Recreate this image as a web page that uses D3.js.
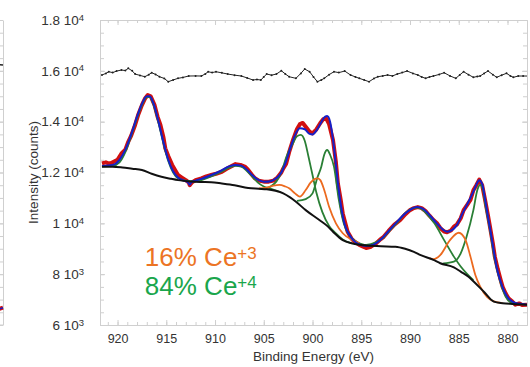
<!DOCTYPE html>
<html lang="en">
<head>
<meta charset="utf-8">
<title>Ce 3d XPS</title>
<script src="https://d3js.org/d3.v7.min.js"></script>
<style>
  body { margin: 0; background: #fff; }
  svg text { font-family: "Liberation Sans", Arial, sans-serif; fill: #333; }
</style>
</head>
<body>
<script>
// ---- data: [binding energy (eV), counts] ----
var measured = [[921.6,12360],[921.2,12400],[920.8,12340],[920.4,12420],[920.0,12500],[919.6,12750],[919.2,12900],[918.9,13210],[918.6,13450],[918.2,13870],[917.9,14250],[917.5,14650],[917.2,14900],[916.9,15050],[916.6,15000],[916.2,14650],[915.9,14200],[915.6,13870],[915.3,13400],[915.1,12950],[914.8,12650],[914.4,12300],[914.1,12100],[913.8,11900],[913.4,11800],[913.0,11700],[912.7,11610],[912.6,11500],[912.4,11600],[912.0,11700],[911.4,11770],[910.9,11850],[910.4,11900],[909.9,11950],[909.3,12030],[908.8,12150],[908.3,12250],[907.9,12330],[907.4,12300],[906.9,12220],[906.6,12100],[906.2,11900],[905.9,11770],[905.5,11680],[905.0,11640],[904.5,11640],[904.0,11680],[903.6,11800],[903.2,12000],[903.0,12160],[902.7,12350],[902.4,12800],[902.0,13280],[901.6,13700],[901.3,13900],[901.0,13950],[900.7,13800],[900.3,13600],[900.0,13540],[899.6,13700],[899.2,13950],[898.9,14100],[898.6,14130],[898.3,13900],[897.9,13280],[897.6,12400],[897.4,11570],[897.1,10900],[896.9,10390],[896.6,9950],[896.4,9670],[896.0,9400],[895.7,9280],[895.2,9150],[894.8,9080],[894.5,9030],[894.0,9080],[893.5,9210],[893.0,9380],[892.7,9470],[892.2,9700],[891.6,9950],[891.0,10130],[890.5,10350],[890.0,10520],[889.6,10600],[889.2,10640],[888.8,10600],[888.4,10480],[888.0,10300],[887.6,10130],[887.2,9990],[886.9,9820],[886.5,9680],[886.2,9650],[885.8,9720],[885.5,9870],[885.2,9950],[884.8,10200],[884.5,10520],[884.1,10750],[883.8,10920],[883.5,11300],[883.2,11500],[882.9,11720],[882.6,11500],[882.3,10920],[882.0,10300],[881.8,9870],[881.5,9200],[881.3,8690],[881.0,8200],[880.7,7770],[880.5,7500],[880.2,7250],[879.9,7050],[879.5,6920],[879.2,6800],[878.8,6850],[878.5,6790],[878.0,6800]];

var envelope = [[921.6,12260],[920.5,12300],[919.8,12500],[919.2,12900],[918.6,13500],[918.0,14200],[917.5,14700],[917.0,15000],[916.7,15000],[916.3,14700],[915.8,14000],[915.3,13200],[914.8,12500],[914.3,12050],[913.8,11800],[913.2,11680],[912.8,11620],[912.6,11520],[912.4,11620],[912.0,11680],[911.4,11750],[910.5,11880],[909.5,12050],[908.5,12250],[907.9,12300],[907.3,12270],[906.7,12100],[906.2,11900],[905.6,11720],[905.0,11640],[904.3,11660],[903.7,11780],[903.2,12000],[902.7,12450],[902.2,13050],[901.7,13550],[901.3,13740],[900.8,13700],[900.3,13520],[900.0,13500],[899.6,13650],[899.1,13980],[898.7,14200],[898.5,14220],[898.2,14000],[897.9,13300],[897.6,12300],[897.3,11300],[897.0,10500],[896.7,9950],[896.3,9600],[895.8,9330],[895.2,9170],[894.5,9110],[893.8,9150],[893.0,9360],[892.3,9650],[891.5,9990],[890.8,10280],[890.0,10530],[889.3,10640],[888.7,10580],[888.0,10330],[887.3,10020],[886.7,9780],[886.2,9670],[885.7,9730],[885.2,9930],[884.6,10400],[884.0,10850],[883.5,11250],[883.1,11600],[882.9,11700],[882.6,11550],[882.3,10950],[882.0,10250],[881.7,9600],[881.4,8900],[881.1,8250],[880.7,7700],[880.3,7300],[879.9,7050],[879.5,6920],[879.0,6850],[878.5,6830],[878.0,6800]];

var background = [[921.6,12230],[920.5,12230],[919.5,12200],[918.5,12150],[917.5,12100],[916.5,11950],[915.5,11830],[914.5,11750],[913.8,11700],[912.5,11650],[911.5,11630],[910.4,11620],[909.3,11570],[908.0,11500],[906.6,11390],[905.5,11360],[904.7,11340],[903.8,11280],[903.0,11180],[902.3,11020],[901.7,10850],[900.7,10520],[899.3,10130],[898.5,9900],[897.9,9670],[896.9,9340],[895.9,9210],[894.5,9130],[893.0,9100],[891.5,9080],[890.5,9000],[889.6,8880],[888.9,8750],[887.6,8560],[886.9,8430],[885.5,8270],[884.8,8100],[884.0,7900],[883.5,7720],[882.4,7300],[881.4,6920],[880.5,6860],[879.5,6830],[878.0,6800]];

// Ce4+ components
var ce4Peaks = [
  [[921.6,12240],[920.5,12260],[919.8,12400],[919.2,12800],[918.6,13450],[918.0,14150],[917.5,14650],[917.0,14970],[916.7,14970],[916.3,14650],[915.8,13950],[915.3,13150],[914.8,12450],[914.3,12000],[913.8,11770],[913.0,11680],[912.0,11640]],
  [[912.5,11650],[911.4,11700],[910.5,11830],[909.5,12000],[908.5,12200],[907.9,12260],[907.3,12230],[906.7,12050],[906.2,11850],[905.6,11600],[905.0,11450],[904.3,11370],[903.5,11260]],
  [[904.8,11380],[904.3,11450],[903.7,11650],[903.2,12000],[902.7,12600],[902.0,13150],[901.6,13420],[901.2,13480],[900.8,13250],[900.4,12600],[900.0,11900],[899.6,11200],[899.0,10450],[898.3,9900],[897.6,9600],[896.9,9360],[896.0,9210]],
  [[901.6,10880],[900.7,10950],[900.0,11180],[899.5,11800],[899.1,12230],[898.8,12700],[898.5,12885],[898.2,12700],[897.8,12230],[897.3,10920],[896.8,10000],[896.1,9470],[895.2,9210],[894.5,9130]],
  [[895.5,9200],[894.5,9150],[893.5,9250],[892.7,9450],[892.0,9750],[891.2,10080],[890.5,10400],[889.8,10580],[889.3,10620],[888.9,10590],[888.4,10420],[887.5,10000],[886.5,9340],[885.5,8690],[884.8,8300],[884.2,8030],[883.5,7760]],
  [[886.6,8420],[885.5,8490],[884.8,8820],[884.2,9470],[883.5,10520],[883.1,11300],[882.8,11510],[882.5,11300],[882.3,10790],[881.8,9740],[881.3,8560],[880.7,7640],[880.2,7120],[879.7,6900],[879.0,6830]]
];

// Ce3+ components
var ce3Peaks = [
  [[905.5,11370],[904.7,11400],[904.0,11480],[903.4,11510],[902.8,11450],[902.4,11380],[901.8,11180],[901.3,11050],[900.7,11310],[900.2,11600],[899.8,11740],[899.5,11770],[899.2,11700],[898.8,11310],[898.3,10650],[897.6,10000],[896.9,9610],[895.9,9340],[895.2,9220]],
  [[888.0,8620],[887.6,8590],[886.9,8750],[885.9,9340],[885.0,9630],[884.3,9340],[883.8,8690],[883.3,7970],[882.8,7510],[882.1,7110],[881.4,6930],[880.5,6860]]
];

// residual, drawn offset to 1.6 10^4
var residual = [[921.6,15835],[921.2,15900],[920.9,15965],[920.5,15930],[920.1,15990],[919.6,16032],[919.2,16010],[918.9,16099],[918.5,16000],[918.2,15874],[917.7,15820],[917.2,15768],[916.8,15850],[916.5,15926],[916.1,15860],[915.7,15768],[915.2,15700],[914.8,15572],[914.3,15640],[913.8,15705],[913.3,15740],[912.7,15796],[912.0,15800],[911.4,15796],[911.0,15880],[910.7,15965],[910.3,15930],[909.9,15965],[909.3,15920],[908.7,15874],[908.0,15830],[907.3,15796],[906.7,15720],[906.1,15638],[905.7,15660],[905.3,15638],[905.0,15760],[904.7,15874],[904.2,15830],[903.7,15874],[903.2,16004],[902.8,15880],[902.4,15768],[901.7,15705],[901.2,15900],[900.8,16071],[900.3,15965],[899.9,15760],[899.5,15572],[899.1,15640],[898.8,15705],[898.3,15850],[897.8,15965],[897.3,15930],[896.7,15992],[896.1,15835],[895.6,15760],[895.2,15705],[894.7,15640],[894.2,15572],[893.7,15700],[893.3,15768],[892.8,15800],[892.3,15835],[891.8,15800],[891.3,15874],[890.8,15930],[890.3,15992],[889.7,15900],[889.2,15835],[888.8,15760],[888.4,15705],[888.0,15760],[887.6,15796],[887.0,15860],[886.5,15926],[885.9,15800],[885.3,15705],[884.9,15840],[884.5,15965],[884.0,15850],[883.5,15745],[883.1,15780],[882.8,15796],[882.4,15900],[882.0,15992],[881.5,15850],[881.1,15745],[880.6,15830],[880.1,15902],[879.7,15800],[879.4,15745],[878.9,15796],[878.4,15796],[877.9,15796]];

var xMajor = [920, 915, 910, 905, 900, 895, 890, 885, 880];
var yMajor = [6000, 8000, 10000, 12000, 14000, 16000, 18000];
var shares = ["16% Ce", "84% Ce"];
var charges = ["+3", "+4"];

// neighbouring panel (only its right edge shows)
var sideMeasured = [[878.6,6700],[878.3,6640],[878.0,6680]];
var sideResidual = [[878.6,16260],[878.0,16230]];

var w = 530, h = 367;
var pLeft = 100, pRight = 527, pTop = 20, pBottom = 325;

var svg = d3.select("body").append("svg")
    .attr("width", w)
    .attr("height", h);

var x = d3.scaleLinear().domain([921.8, 878]).range([pLeft, pRight]);
var y = d3.scaleLinear().domain([6000, 18000]).range([pBottom, pTop]);

svg.append("clipPath").attr("id", "plot")
  .append("rect")
    .attr("x", pLeft).attr("y", pTop)
    .attr("width", pRight - pLeft).attr("height", pBottom - pTop);

var line = d3.line()
    .x(d => x(d[0]))
    .y(d => y(d[1]));
var smooth = d3.line()
    .x(d => x(d[0]))
    .y(d => y(d[1]))
    .curve(d3.curveMonotoneX);

var gridColor = "#cfcfcf";

// ticks every 1 eV / 500 counts, inward, on all four sides
function styleAxis(g) {
  g.selectAll("path, line").attr("stroke", gridColor);
  g.selectAll("text").attr("font-size", 12.5).attr("fill", "#333");
}
var xMinor = d3.range(879, 922, 1);
var yMinor = d3.range(6500, 18000, 500);

svg.append("g").attr("transform", "translate(0," + pBottom + ")")
  .call(d3.axisBottom(x).tickValues(xMinor).tickSizeInner(-3).tickSizeOuter(0).tickFormat(""))
  .call(styleAxis);
svg.append("g").attr("transform", "translate(0," + pBottom + ")")
  .call(d3.axisBottom(x).tickValues(xMajor).tickSizeInner(-5).tickSizeOuter(0).tickPadding(9).tickFormat(d3.format("d")))
  .call(styleAxis);
svg.append("g").attr("transform", "translate(0," + pTop + ")")
  .call(d3.axisTop(x).tickValues(xMinor).tickSizeInner(-3).tickSizeOuter(0).tickFormat(""))
  .call(styleAxis);
svg.append("g").attr("transform", "translate(0," + pTop + ")")
  .call(d3.axisTop(x).tickValues(xMajor).tickSizeInner(-5).tickSizeOuter(0).tickFormat(""))
  .call(styleAxis);

svg.append("g").attr("transform", "translate(" + pLeft + ",0)")
  .call(d3.axisLeft(y).tickValues(yMinor).tickSizeInner(-4).tickSizeOuter(0).tickFormat(""))
  .call(styleAxis);
var yAxis = svg.append("g").attr("transform", "translate(" + pLeft + ",0)")
  .call(d3.axisLeft(y).tickValues(yMajor).tickSizeInner(-5).tickSizeOuter(0).tickPadding(16))
  .call(styleAxis);
svg.append("g").attr("transform", "translate(" + pRight + ",0)")
  .call(d3.axisRight(y).tickValues(yMinor).tickSizeInner(-4).tickSizeOuter(0).tickFormat(""))
  .call(styleAxis);
svg.append("g").attr("transform", "translate(" + pRight + ",0)")
  .call(d3.axisRight(y).tickValues(yMajor).tickSizeInner(-5).tickSizeOuter(0).tickFormat(""))
  .call(styleAxis);

// "1.2 10^4" style labels
yAxis.selectAll(".tick text").each(function(d) {
  var e = Math.floor(Math.log10(d));
  var m = +(d / Math.pow(10, e)).toFixed(1);
  var t = d3.select(this).text(null).attr("font-size", 13.5);
  t.append("tspan").text(m + " 10");
  t.append("tspan").attr("dy", "-0.45em").attr("font-size", 9.5).text(e);
});

// axis titles
svg.append("text")
  .attr("x", (pLeft + pRight) / 2)
  .attr("y", 361)
  .attr("text-anchor", "middle")
  .attr("font-size", 13.5)
  .text("Binding Energy (eV)");
svg.append("text")
  .attr("transform", "translate(38," + (pTop + pBottom) / 2 + ") rotate(-90)")
  .attr("text-anchor", "middle")
  .attr("font-size", 13.5)
  .text("Intensity (counts)");

// curves
var plot = svg.append("g").attr("clip-path", "url(#plot)");

plot.append("path").datum(measured)
  .attr("d", line)
  .attr("fill", "none")
  .attr("stroke", "#d10f0f")
  .attr("stroke-width", 4)
  .attr("stroke-linejoin", "round");

plot.selectAll("path.ce4").data(ce4Peaks).enter().append("path")
  .attr("class", "ce4")
  .attr("d", smooth)
  .attr("fill", "none")
  .attr("stroke", "#2a7f35")
  .attr("stroke-width", 1.8);

plot.selectAll("path.ce3").data(ce3Peaks).enter().append("path")
  .attr("class", "ce3")
  .attr("d", smooth)
  .attr("fill", "none")
  .attr("stroke", "#ec6a1f")
  .attr("stroke-width", 1.8);

plot.append("path").datum(envelope)
  .attr("d", smooth)
  .attr("fill", "none")
  .attr("stroke", "#1620c8")
  .attr("stroke-width", 2);

plot.append("path").datum(background)
  .attr("d", smooth)
  .attr("fill", "none")
  .attr("stroke", "#111")
  .attr("stroke-width", 2);

plot.append("path").datum(residual)
  .attr("d", line)
  .attr("fill", "none")
  .attr("stroke", "#222")
  .attr("stroke-width", 1);
plot.selectAll("circle.res").data(residual).enter().append("circle")
  .attr("class", "res")
  .attr("cx", d => x(d[0]))
  .attr("cy", d => y(d[1]))
  .attr("r", 1)
  .attr("fill", "#222");

// Ce3+ / Ce4+ shares
var shareColors = ["#ec7424", "#1aa64c"];
shares.forEach(function(s, i) {
  var t = svg.append("text")
    .attr("x", x(917.2))
    .attr("y", y(8330) + i * 29)
    .attr("font-family", "Lato, 'Open Sans', sans-serif")
    .attr("font-size", 26)
    .style("fill", shareColors[i]);
  t.append("tspan").text(s);
  t.append("tspan").attr("dy", "-0.4em").attr("font-size", 17).text(charges[i]);
});

// edge of the neighbouring panel
var xs = d3.scaleLinear().domain([882, 878]).range([-40, 3]);
var side = svg.append("g");
side.append("g").attr("transform", "translate(3,0)")
  .call(d3.axisRight(y).tickValues(yMinor.concat(yMajor)).tickSizeInner(-4).tickSizeOuter(0).tickFormat(""))
  .call(styleAxis);
side.append("line")
  .attr("x1", xs(882)).attr("x2", xs(878))
  .attr("y1", pBottom).attr("y2", pBottom)
  .attr("stroke", gridColor);
side.append("path").datum(sideMeasured)
  .attr("d", d3.line().x(d => xs(d[0])).y(d => y(d[1])))
  .attr("fill", "none").attr("stroke", "#d10f0f").attr("stroke-width", 4);
side.append("path").datum(sideMeasured)
  .attr("d", d3.line().x(d => xs(d[0])).y(d => y(d[1])))
  .attr("fill", "none").attr("stroke", "#1620c8").attr("stroke-width", 1.5);
side.append("path").datum(sideResidual)
  .attr("d", d3.line().x(d => xs(d[0])).y(d => y(d[1])))
  .attr("fill", "none").attr("stroke", "#222").attr("stroke-width", 1.5);
</script>
</body>
</html>
